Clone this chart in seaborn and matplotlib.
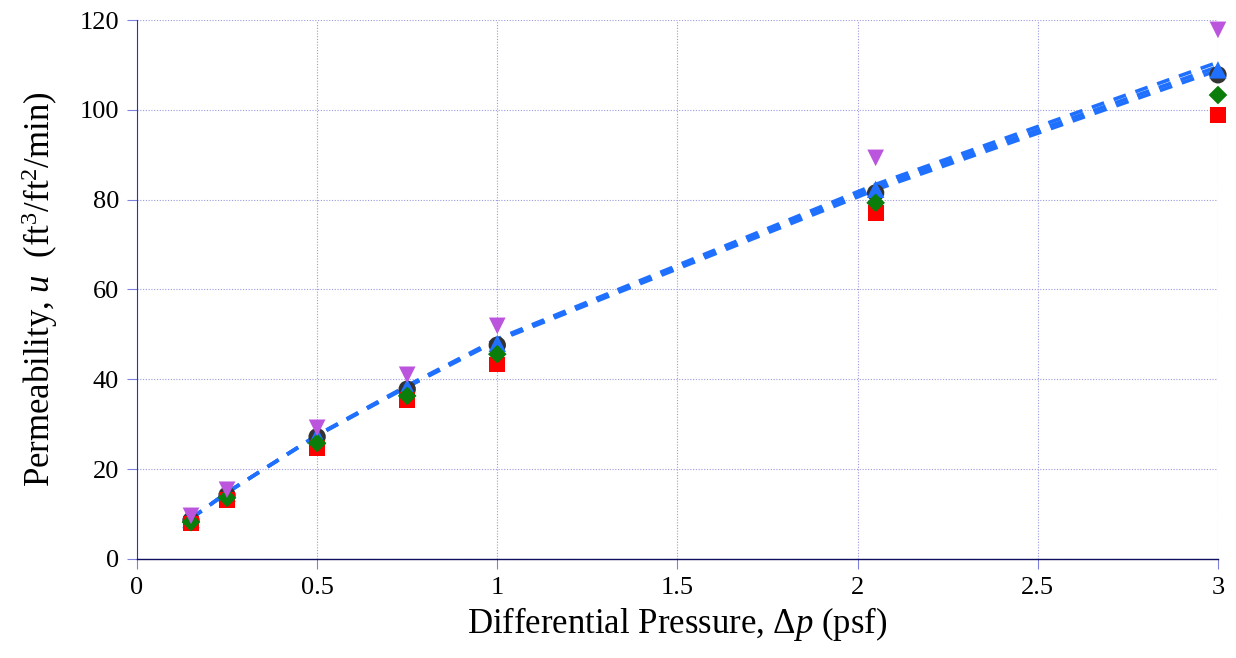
import matplotlib
matplotlib.use("Agg")
import matplotlib.pyplot as plt
import seaborn as sns
import pandas as pd

# differential pressure (psf)
dp = [0.15, 0.25, 0.5, 0.75, 1.0, 2.05, 3.0]

# measured permeability, one list per sample
black_pts = [8.6, 14.2, 27.2, 37.8, 47.6, 81.5, 107.8]
blue_pts = [8.8, 14.6, 27.4, 38.2, 48.0, 82.3, 108.9]
green_pts = [8.2, 13.6, 25.8, 36.3, 45.6, 79.3, 103.3]
red_pts = [7.9, 13.1, 24.7, 35.4, 43.3, 77.0, 98.9]
violet_pts = [9.6, 15.4, 29.2, 41.0, 51.9, 89.3, 117.8]

# dashed trend lines (nearly overlapping)
trend_a = [9.0, 14.8, 27.6, 38.6, 49.0, 83.4, 110.6]
trend_b = [9.0, 14.8, 27.5, 38.4, 48.8, 82.8, 109.6]
trend_c = [9.0, 14.8, 27.5, 38.3, 48.6, 82.2, 108.8]

sns.set_style("white")
plt.rcParams["font.family"] = ["Liberation Serif", "DejaVu Serif"]
plt.rcParams["mathtext.fontset"] = "custom"
plt.rcParams["mathtext.rm"] = "Liberation Serif"
plt.rcParams["mathtext.it"] = "Liberation Serif:italic"
plt.rcParams["text.color"] = "black"
plt.rcParams["axes.labelcolor"] = "black"
plt.rcParams["xtick.labelcolor"] = "black"
plt.rcParams["ytick.labelcolor"] = "black"

fig = plt.figure(figsize=(12.36, 6.58), dpi=100)
ax = fig.add_axes([0.1108, 0.1505, 0.8746, 0.8191])

# trend lines under the markers
for t in [trend_a, trend_b, trend_c]:
    sns.lineplot(x=dp, y=t, ax=ax, color="#2070ff", linewidth=2.6,
                 linestyle=(0, (3.6, 2.8)), zorder=2)

series = [
    (black_pts, "o", "#333333", 12.5),
    (blue_pts, "^", "#2070ff", 12.5),
    (red_pts, "s", "#ff0000", 11.5),
    (green_pts, "D", "#0a7d0a", 9.5),
    (violet_pts, "v", "#bb55dd", 12),
]
for vals, mk, col, ms in series:
    df = pd.DataFrame({"dp": dp, "u": vals})
    sns.scatterplot(data=df, x="dp", y="u", ax=ax, marker=mk, color=col,
                    s=ms ** 2, edgecolor="none", zorder=3, clip_on=False)

ax.set_xlim(0, 3)
ax.set_ylim(0, 120)
ax.set_xticks([0, 0.5, 1, 1.5, 2, 2.5, 3])
ax.set_xticklabels(["0", "0.5", "1", "1.5", "2", "2.5", "3"])
ax.set_yticks(range(0, 121, 20))

ax.grid(True, color="#9b9bdd", linestyle=(0, (1, 1.5)), linewidth=0.8)
ax.set_axisbelow(True)
for s in ["top", "right"]:
    ax.spines[s].set_visible(False)
ax.spines["left"].set_color("#3030c0")
ax.spines["left"].set_linewidth(0.8)
ax.spines["bottom"].set_color("#101060")
ax.spines["bottom"].set_linestyle((0, (1, 1)))
ax.spines["bottom"].set_linewidth(1.0)

ax.tick_params(axis="both", direction="out", length=7, width=0.8,
               color="#8080dd", labelsize=19, pad=6, left=True, bottom=True)

ax.set_xlabel(r"Differential Pressure, $\Delta p$ (psf)", fontsize=25, labelpad=4)
ax.set_ylabel(r"Permeability, $u$  (ft$^3$/ft$^2$/min)", fontsize=25, labelpad=14)

fig.savefig("out.png", dpi=100)
